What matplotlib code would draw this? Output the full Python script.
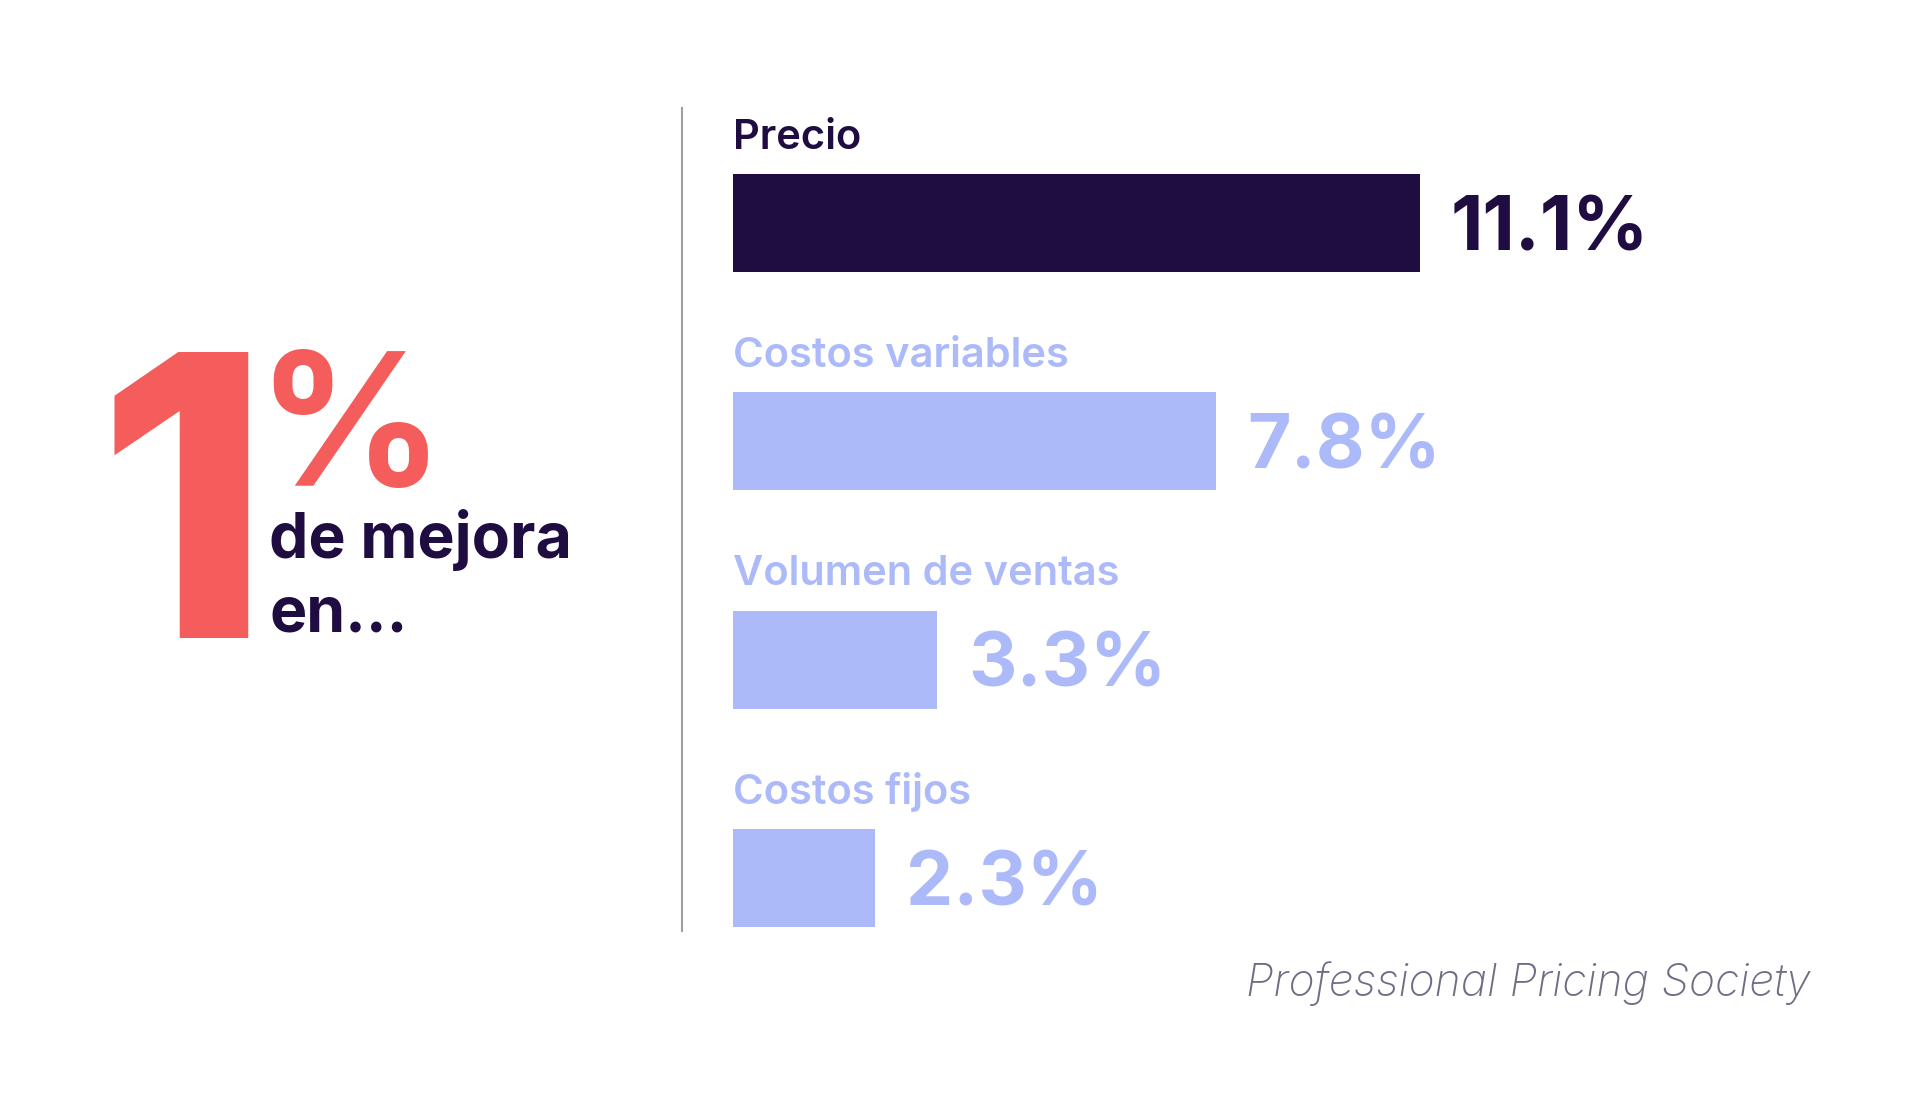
import matplotlib
matplotlib.use('Agg')
import matplotlib.pyplot as plt
from matplotlib.lines import Line2D

# data
categories = ['Precio', 'Costos variables', 'Volumen de ventas', 'Costos fijos']
values = [11.1, 7.8, 3.3, 2.3]
value_labels = ['11.1%', '7.8%', '3.3%', '2.3%']
headline_num = '1'
headline_pct = '%'
headline_text = ['de mejora', 'en...']
source = 'Professional Pricing Society'

NAVY = '#1f0c41'
LILAC = '#acbafa'
RED = '#f45d5c'
GREY = '#6f6c84'

plt.rcParams['font.family'] = ['Inter', 'DejaVu Sans']

W, H = 1920, 1118
fig = plt.figure(figsize=(W / 100, H / 100), dpi=100)


def px(x, y):
    # pixel position (from top left) -> figure fraction
    return x / W, 1 - y / H


# left side headline
fig.text(*px(96, 638), headline_num, color=RED, fontsize=283,
         fontweight='heavy', ha='left', va='baseline')
fig.text(*px(256, 486), headline_pct, color=RED, fontsize=133,
         fontweight='bold', ha='left', va='baseline')
fig.text(*px(269, 558), headline_text[0], color=NAVY, fontsize=45,
         fontweight='bold', ha='left', va='baseline')
fig.text(*px(269, 632), headline_text[1], color=NAVY, fontsize=45,
         fontweight='bold', ha='left', va='baseline')

# divider
fig.add_artist(Line2D([682 / W, 682 / W], [1 - 108 / H, 1 - 931 / H],
                      color='#a0a0a0', lw=1.5))

# bars
px_per_unit = 61.9
left = 733
ax = fig.add_axes([left / W, 1 - 987 / H, (W - left) / W, 873 / H])
colors = [NAVY] + [LILAC] * (len(values) - 1)
ax.barh(range(len(values)), values, height=0.45, color=colors)
ax.set_xlim(0, (W - left) / px_per_unit)
ax.set_ylim(len(values) - 0.5, -0.5)
ax.axis('off')

for i, (cat, v, lab, c) in enumerate(zip(categories, values, value_labels, colors)):
    ax.text(0, i - 0.34, cat, color=c, fontsize=30, fontweight='semibold',
            ha='left', va='baseline')
    ax.text(v + 0.5, i + 0.125, lab, color=c, fontsize=54, fontweight='bold',
            ha='left', va='baseline')

fig.text(*px(1811, 996), source, color=GREY, fontsize=32, style='italic',
         fontweight='light', ha='right', va='baseline')

fig.savefig('out.png', dpi=100, facecolor='white')
